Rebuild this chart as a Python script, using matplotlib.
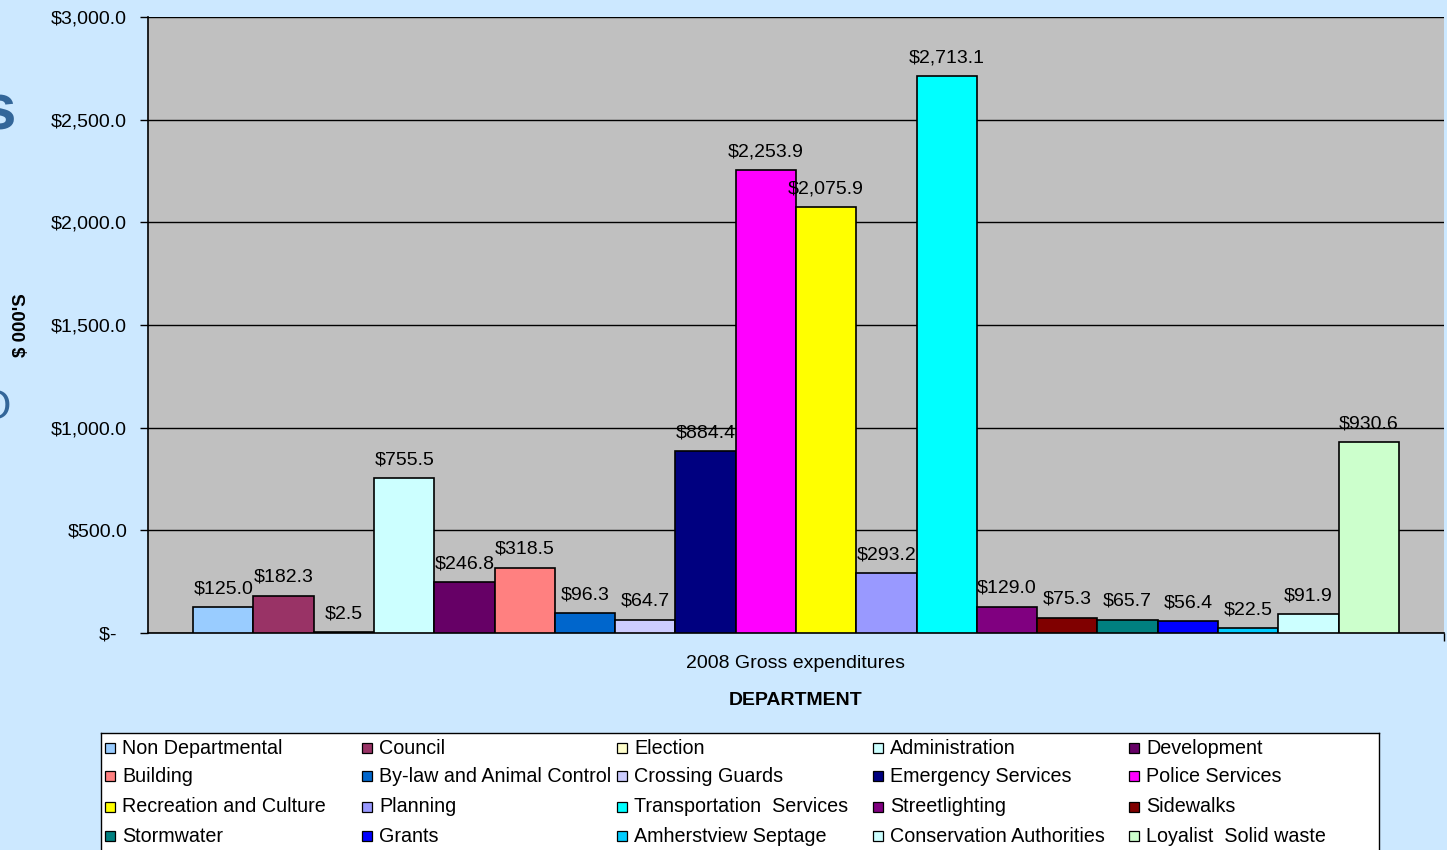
import numpy as np
import matplotlib.pyplot as plt
from matplotlib.patches import Rectangle

plt.rcParams['font.family'] = ['Liberation Sans', 'DejaVu Sans']

departments = ["Non Departmental", "Council", "Election", "Administration", "Development",
               "Building", "By-law and Animal Control", "Crossing Guards", "Emergency Services",
               "Police Services", "Recreation and Culture", "Planning", "Transportation  Services",
               "Streetlighting", "Sidewalks", "Stormwater", "Grants", "Amherstview Septage",
               "Conservation Authorities", "Loyalist  Solid waste"]
expenditures = [125.0, 182.3, 2.5, 755.5, 246.8, 318.5, 96.3, 64.7, 884.4, 2253.9,
                2075.9, 293.2, 2713.1, 129.0, 75.3, 65.7, 56.4, 22.5, 91.9, 930.6]
colors = ["#99CCFF", "#993366", "#FFFFCC", "#CCFFFF", "#660066",
          "#FF8080", "#0066CC", "#CCCCFF", "#000080", "#FF00FF",
          "#FFFF00", "#9999FF", "#00FFFF", "#800080", "#800000",
          "#008080", "#0000FF", "#00CCFF", "#CCFFFF", "#CCFFCC"]
yticks = [0, 500, 1000, 1500, 2000, 2500, 3000]

W, H = 1447, 850
bg = "#CCE8FF"
fs = 14
fig = plt.figure(figsize=(W / 100, H / 100), dpi=100, facecolor=bg)

ax = fig.add_axes([148 / W, 1 - 633 / H, (1444 - 148) / W, (633 - 17) / H])
ax.set_facecolor("#C0C0C0")

x = np.arange(len(expenditures))
bars = ax.bar(x, expenditures, width=1.0, color=colors, edgecolor="black", linewidth=1.2, zorder=3)
ax.bar_label(bars, labels=[f"${v:,.1f}" for v in expenditures], padding=7, fontsize=fs)

ax.set_xlim(-1.25, len(expenditures) + 0.25)
ax.set_ylim(0, 3000)
ax.set_yticks(yticks)
ax.set_yticklabels([f"${v:,.1f}" if v else "$-  " for v in yticks], fontsize=fs)
ax.yaxis.grid(True, color="black", linewidth=1, zorder=0)
ax.tick_params(axis="y", direction="out", length=6, width=1, pad=9)

ax.set_xticks([(len(expenditures) - 1) / 2])
ax.set_xticklabels(["2008 Gross expenditures"], fontsize=fs)
ax.tick_params(axis="x", length=0, pad=16)
ax.set_xticks([len(expenditures) + 0.25], minor=True)
ax.tick_params(axis="x", which="minor", length=6, width=1)
ax.set_xlabel("DEPARTMENT", fontsize=fs, fontweight="bold", labelpad=14)

for s in ["top", "right"]:
    ax.spines[s].set_visible(False)
for s in ["left", "bottom"]:
    ax.spines[s].set_linewidth(1.2)

fig.text(22 / W, 1 - 325 / H, "$ 000'S", rotation=90, ha="center", va="center",
         fontsize=13.5, fontweight="bold")

# slide title letters peeking in at the left edge
fig.text(-0.001, 1 - 113 / H, "s", ha="center", va="center", fontsize=46,
         fontweight="bold", color="#336699")
fig.text(-0.003, 1 - 408 / H, "O", ha="center", va="center", fontsize=30,
         color="#336699")

# legend box, 5 columns x 4 rows
lg = fig.add_axes([101 / W, 0, (1379 - 101) / W, (850 - 733) / H])
lg.set_facecolor("white")
lg.set_xlim(101, 1379)
lg.set_ylim(850, 733)
lg.set_xticks([])
lg.set_yticks([])
lg.spines["bottom"].set_visible(False)
for s in ["top", "left", "right"]:
    lg.spines[s].set_linewidth(1.0)

col_x = [105, 362, 617, 873, 1129]
row_y = [748, 776, 807, 836]
for i, (name, c) in enumerate(zip(departments, colors)):
    cx = col_x[i % 5]
    ry = row_y[i // 5]
    lg.add_patch(Rectangle((cx, ry - 5), 10, 10, facecolor=c, edgecolor="black", linewidth=0.9))
    lg.text(cx + 17, ry, name, va="center", ha="left", fontsize=14.2)

fig.savefig("out.png", dpi=100, facecolor=bg)
